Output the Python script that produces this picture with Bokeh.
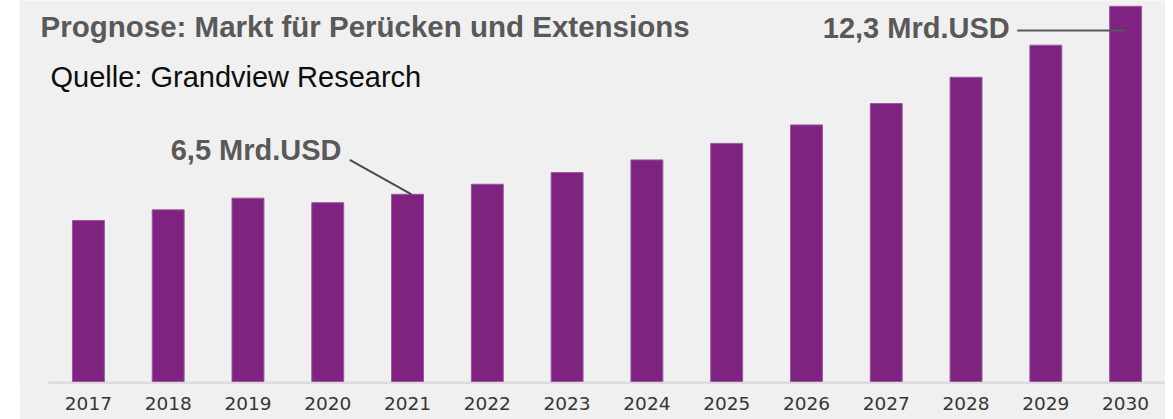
from bokeh.plotting import figure
from bokeh.models import Range1d, FixedTicker, Label, Spacer, ColumnDataSource
from bokeh.layouts import row
from bokeh.embed import file_html
from bokeh.resources import INLINE

# ---- data ----
years = ["2017", "2018", "2019", "2020", "2021", "2022", "2023",
         "2024", "2025", "2026", "2027", "2028", "2029", "2030"]
market_bn_usd = [5.69, 6.02, 6.38, 6.24, 6.50, 6.81, 7.17,
                 7.56, 8.07, 8.64, 9.30, 10.11, 11.10, 12.30]
axis_floor = 0.724          # value at which the bars start (chart is not zero-based)
title_text = "Prognose: Markt für Perücken und Extensions"
source_text = "Quelle: Grandview Research"
highlight_years = ["2021", "2030"]

BG = "#f0f0f0"
BAR = "#7e2480"
GREY = "#595959"

idx = list(range(len(years)))
src = ColumnDataSource(dict(x=idx, top=market_bn_usd, year=years))

y_start = 0.631
y_end = 12.479
x_start = -0.8635
x_end = len(years) - 0.5

p = figure(width=1146, height=419, output_backend="svg",
           toolbar_location=None,
           x_range=Range1d(x_start, x_end), y_range=Range1d(y_start, y_end),
           min_border_left=0, min_border_right=0, min_border_top=0,
           min_border_bottom=35)
p.background_fill_color = BG
p.border_fill_color = BG
p.outline_line_color = None
p.grid.visible = False
p.yaxis.visible = False

p.xaxis.ticker = FixedTicker(ticks=idx)
p.xaxis.major_label_overrides = {i: y for i, y in zip(idx, years)}
p.xaxis.axis_line_color = None
p.xaxis.major_tick_line_color = None
p.xaxis.minor_tick_line_color = None
p.xaxis.major_tick_out = 0
p.xaxis.major_tick_in = 0
p.xaxis.major_label_standoff = 12
p.xaxis.major_label_text_font = "DejaVu Sans"
p.xaxis.major_label_text_font_size = "18.5px"
p.xaxis.major_label_text_color = "#363636"

# baseline
p.segment(x0=[-0.5], y0=[axis_floor - 0.05], x1=[x_end], y1=[axis_floor - 0.05],
          line_color="#dcdcdc", line_width=3)

p.vbar(x="x", top="top", bottom=axis_floor, width=0.40, source=src,
       fill_color=BAR, line_color="#9a55a0", line_width=1)

# title / source (anchored at top-left of the plot frame)
p.add_layout(Label(x=x_start, y=y_end, x_offset=21, y_offset=-25.5, text=title_text,
                   text_font="Liberation Sans", text_font_style="bold",
                   text_font_size="29.5px", text_color=GREY,
                   text_baseline="alphabetic", text_align="left"))
p.add_layout(Label(x=x_start, y=y_end, x_offset=31, y_offset=-76.5, text=source_text,
                   text_font="Liberation Sans", text_font_size="29px",
                   text_color="#0d0d0d", text_baseline="alphabetic", text_align="left"))

# value callouts
def fmt(v):
    return f"{v:.1f}".replace(".", ",") + " Mrd.USD"

i21 = years.index(highlight_years[0])
v21 = market_bn_usd[i21]
p.add_layout(Label(x=i21, y=v21, x_offset=-66, y_offset=44.5, text=fmt(v21),
                   text_font="Liberation Sans", text_font_style="bold",
                   text_font_size="29px", text_color=GREY,
                   text_baseline="alphabetic", text_align="right"))
p.segment(x0=[i21 - 0.724], y0=[v21 + 1.064], x1=[i21 + 0.05], y1=[v21],
          line_color="#4a4a4a", line_width=2)

i30 = years.index(highlight_years[1])
v30 = market_bn_usd[i30]
p.add_layout(Label(x=i30, y=v30, x_offset=-115.9, y_offset=-21.5, text=fmt(v30),
                   text_font="Liberation Sans", text_font_style="bold",
                   text_font_size="29px", text_color=GREY,
                   text_baseline="alphabetic", text_align="right"))
p.segment(x0=[i30 - 1.359], y0=[v30 - 0.747], x1=[i30 - 0.011], y1=[v30 - 0.747],
          line_color=GREY, line_width=2)

layout = row(Spacer(width=19, height=10), p)
open("out.html", "w").write(file_html(layout, INLINE))
